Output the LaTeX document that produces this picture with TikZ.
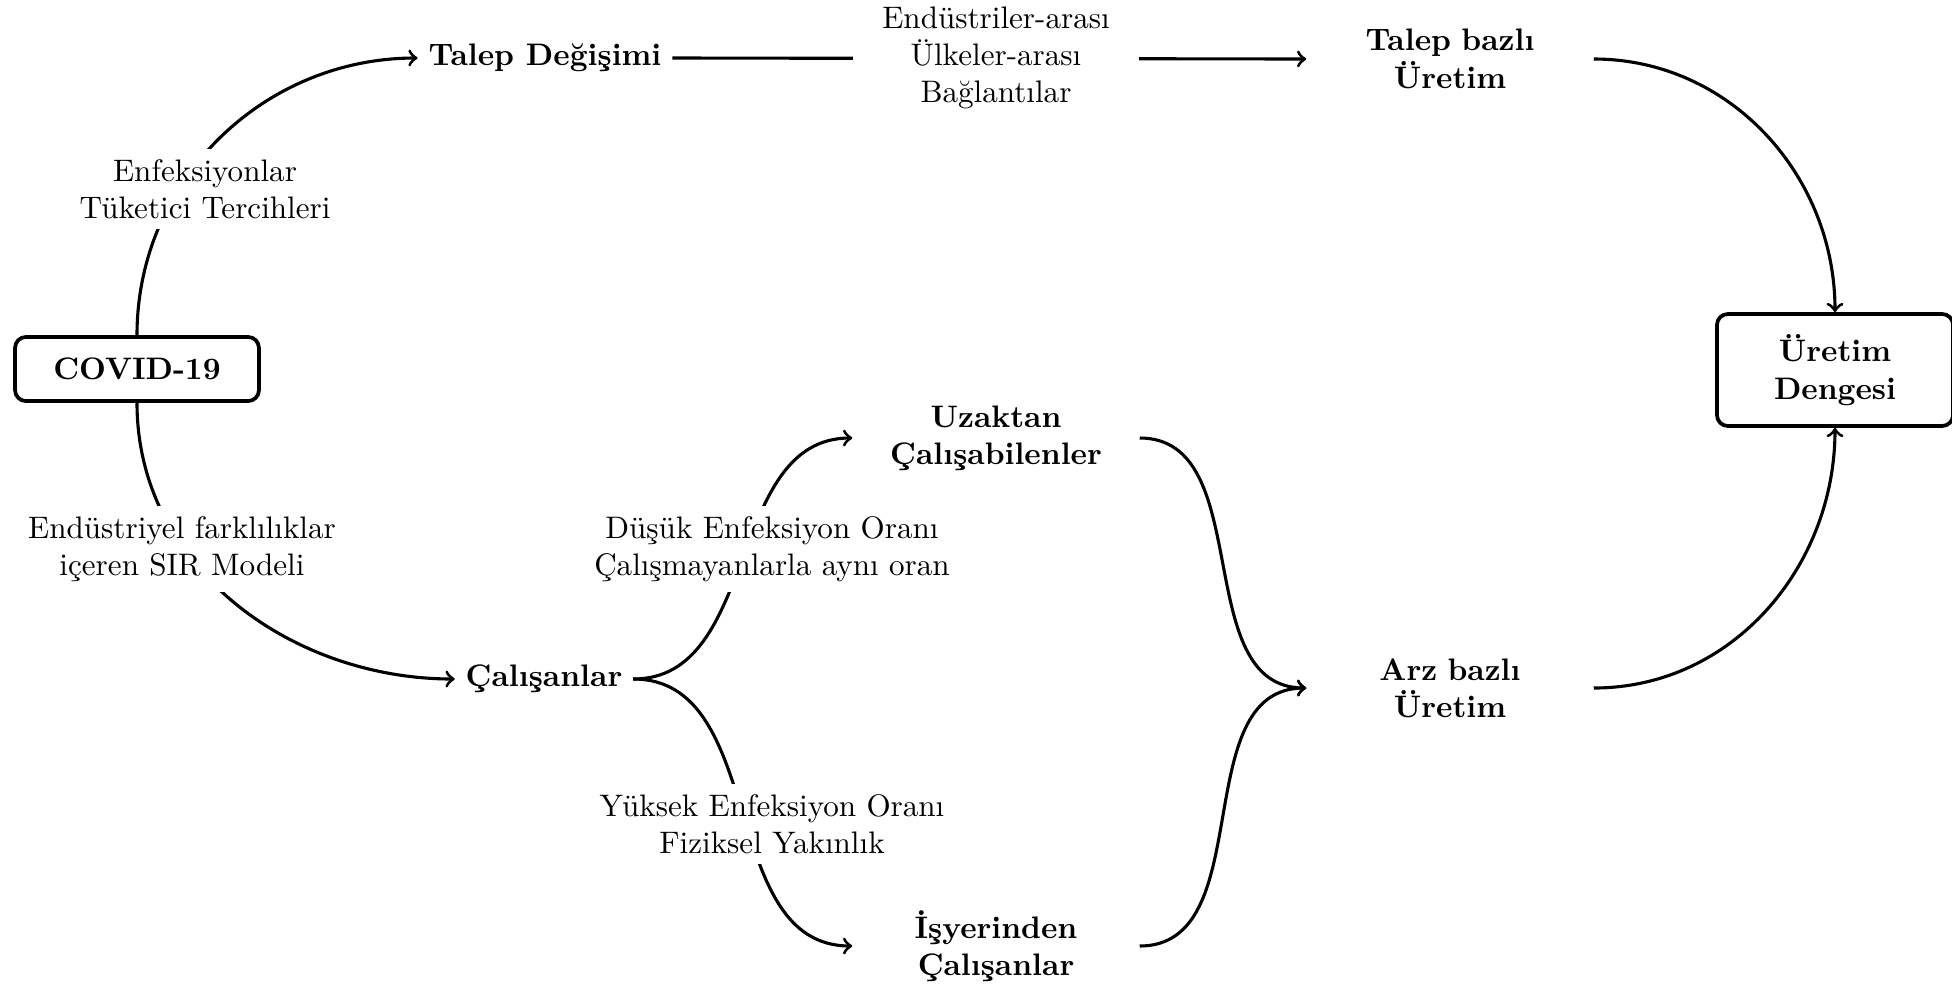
\documentclass[tikz,border=0pt]{standalone}
\usepackage{fontspec}
\usetikzlibrary{backgrounds}
\begin{document}
\begin{tikzpicture}[x=0.3215pt,y=0.3215pt,
  box/.style={draw, line width=1.2pt, rounded corners=3.5pt, font=\bfseries, align=center},
  plain/.style={font=\bfseries, align=center},
  wide/.style={font=\bfseries, align=center, text width=3cm},
  lbl/.style={fill=white, align=center},
  conn/.style={line width=1pt, ->}]
\useasboundingbox (0,0) rectangle (1952,-986);
\node[box, minimum width=78.4pt, minimum height=20.6pt] (covid) at (137,-369) {COVID-19};
\node[plain] (talep) at (545,-58) {Talep Değişimi};
\node[wide] (tbu) at (1450,-59) {Talep bazlı\\Üretim};
\node[box, minimum width=75.9pt, minimum height=36pt] (ured) at (1835,-370) {Üretim\\Dengesi};
\node[plain] (cal) at (544,-679) {Çalışanlar};
\node[wide] (uzak) at (996,-438) {Uzaktan\\Çalışabilenler};
\node[wide] (isy) at (996,-946) {İşyerinden\\Çalışanlar};
\node[wide] (arz) at (1450,-688) {Arz bazlı\\Üretim};
\node[lbl] (l1) at (205,-189) {Enfeksiyonlar\\Tüketici Tercihleri};
\node[lbl, text width=3cm] (l2) at (996,-58) {Endüstriler-arası\\Ülkeler-arası\\Bağlantılar};
\node[lbl] (l3) at (182,-549) {Endüstriyel farklılıklar\\içeren SIR Modeli};
\node[lbl] (l4) at (772,-549) {Düşük Enfeksiyon Oranı\\Çalışmayanlarla aynı oran};
\node[lbl] (l5) at (772,-824) {Yüksek Enfeksiyon Oranı\\Fiziksel Yakınlık};
\begin{scope}[on background layer]
\draw[conn] (covid.north) to[out=90,in=180] (talep.west);
\draw[conn] (talep.east) -- (tbu.west);
\draw[conn] (tbu.east) to[out=0,in=90] (ured.north);
\draw[conn] (covid.south) to[out=-90,in=180] (cal.west);
\draw[conn] (cal.east) to[out=0,in=180] (uzak.west);
\draw[conn] (cal.east) to[out=0,in=180] (isy.west);
\draw[conn] (uzak.east) to[out=0,in=180] (arz.west);
\draw[conn] (isy.east) to[out=0,in=180] (arz.west);
\draw[conn] (arz.east) to[out=0,in=-90] (ured.south);
\end{scope}
\end{tikzpicture}
\end{document}
